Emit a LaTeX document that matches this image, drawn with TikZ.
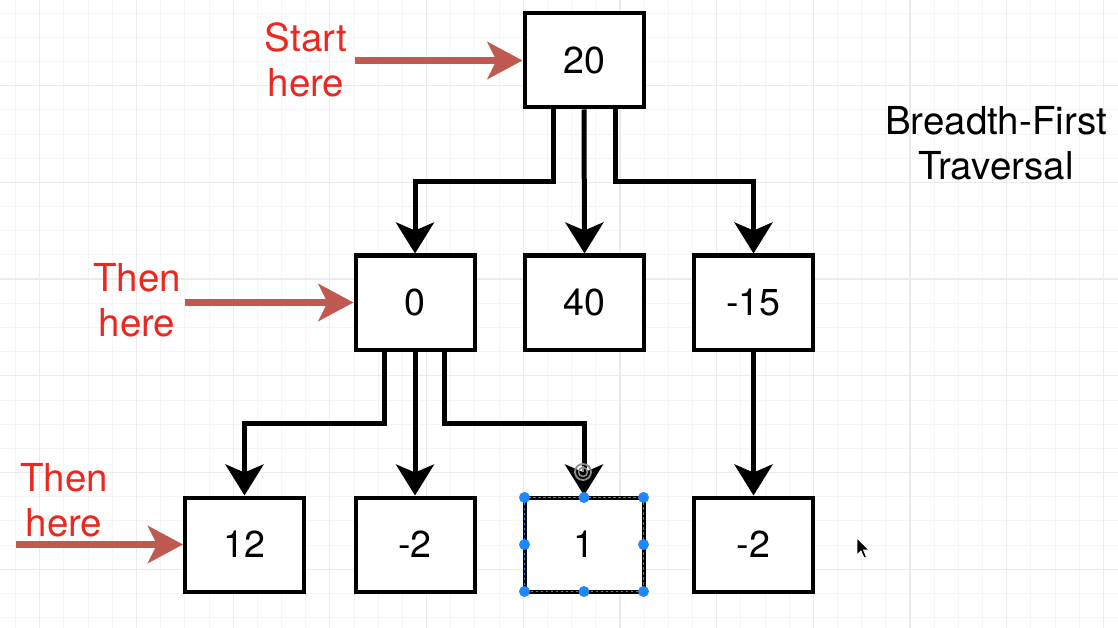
\documentclass[tikz,border=0pt]{standalone}
\usepackage{fontspec}
\setmainfont{TeX Gyre Heros}
\usetikzlibrary{arrows.meta,calc}
\definecolor{redtxt}{RGB}{234,40,32}
\definecolor{redarr}{RGB}{192,90,80}
\definecolor{selblue}{RGB}{30,136,255}
\begin{document}
\begin{tikzpicture}[x=1pt,y=-1pt,
  box/.style={draw=black,line width=4pt,fill=white,minimum width=119pt,minimum height=94pt,inner sep=0pt,font=\fontsize{37.5}{45}\selectfont},
  conn/.style={draw=black,line width=5pt,line join=miter,-{Stealth[length=31pt,width=38pt,inset=8pt]}},
  redarrow/.style={draw=redarr,line width=7pt,-{Stealth[length=35pt,width=37pt,inset=9pt]}},
  redlabel/.style={text=redtxt,align=center,font=\fontsize{38.5}{45}\selectfont},
  blacklabel/.style={text=black,align=center,font=\fontsize{38.5}{45}\selectfont},
  minorgrid/.style={draw=black!4,line width=0.8pt},
  majorgrid/.style={draw=black!8,line width=1.2pt},
  handle/.style={fill=selblue},
  sel/.style={draw=selblue,line width=1pt,dash pattern=on 2.5pt off 2.5pt}
]
\useasboundingbox (0,0) rectangle (1118,628);
\fill[white] (0,0) rectangle (1118,628);
% grid
\foreach \i in {0,...,46} \draw[minorgrid] ({15.5+\i*24.175},0) -- ({15.5+\i*24.175},628);
\foreach \i in {0,...,26} \draw[minorgrid] (0,{13.1+\i*24.175}) -- (1118,{13.1+\i*24.175});
\foreach \i in {0,...,11} \draw[majorgrid] ({39.7+\i*96.7},0) -- ({39.7+\i*96.7},628);
\foreach \i in {0,...,6} \draw[majorgrid] (0,{-11.1+\i*96.7}) -- (1118,{-11.1+\i*96.7});

% nodes
\node[box] (n20) at (584,60.5) {20};
\node[box] (n0) at (415,302.5) {0};
\node[box] (n40) at (584.5,302.5) {40};
\node[box] (n15) at (753.5,302.5) {-15};
\node[box] (n12) at (244.5,544.5) {12};
\node[box] (nm2) at (415,544.5) {-2};
\node[box] (n1) at (584,544.5) {1};
\node[box] (nm2b) at (753.5,544.5) {-2};

% levels
\coordinate (h1) at (0,182);
\coordinate (h2) at (0,423);

% connectors from 20
\draw[conn] ([xshift=-31pt]n20.south) |- (n0.north |- h1) -- (n0.north);
\draw[conn] (n20.south) -- (n40.north);
\draw[conn] ([xshift=31pt]n20.south) |- (n15.north |- h1) -- (n15.north);
% connectors from 0
\draw[conn] ([xshift=-31pt]n0.south) |- (n12.north |- h2) -- (n12.north);
\draw[conn] (n0.south) -- (nm2.north);
\draw[conn] ([xshift=29pt]n0.south) |- (n1.north |- h2) -- (n1.north);
% -15 to -2
\draw[conn] (n15.south) -- (nm2b.north);

% selection of node 1
\draw[sel] ($(n1.center)+(-59.5,-47)$) rectangle ($(n1.center)+(59.5,47)$);
\foreach \dx in {-59.5,0,59.5}
  \foreach \dy in {-47,0,47}
    {\ifdim\dx pt=0pt \ifdim\dy pt=0pt \else \fill[handle] ($(n1.center)+(\dx,\dy)$) circle (5.5pt); \fi
     \else \fill[handle] ($(n1.center)+(\dx,\dy)$) circle (5.5pt); \fi}
% rotation handle
\coordinate (rot) at (583,472);
\draw[black!45,line width=1.8pt] (rot) circle (8pt);
\draw[black!45,line width=1.5pt] (rot) circle (4.5pt);
\draw[black!45,line width=1.5pt] (rot) -- ++(0,-6);

% labels
\node[redlabel] (start) at (306,60) {Start\\here};
\node[redlabel] (then1) at (137,300.5) {Then\\here};
\node[redlabel] (then2) at (64,500.5) {Then\\here};
\node[blacklabel] (title) at (996,143.5) {Breadth-First\\Traversal};

% red arrows
\coordinate (s1) at (355,60.5);
\coordinate (s2) at (185,302.5);
\coordinate (s3) at (16,544.5);
\draw[redarrow] (s1) -- (n20.west);
\draw[redarrow] (s2) -- (n0.west);
\draw[redarrow] (s3) -- (n12.west);

% mouse cursor
\filldraw[fill=black,draw=white,line width=0.8pt] (857,538) -- (857,555) -- (861,551) -- (864,558) -- (866.5,557) -- (863.5,550) -- (869,550) -- cycle;
\end{tikzpicture}
\end{document}
